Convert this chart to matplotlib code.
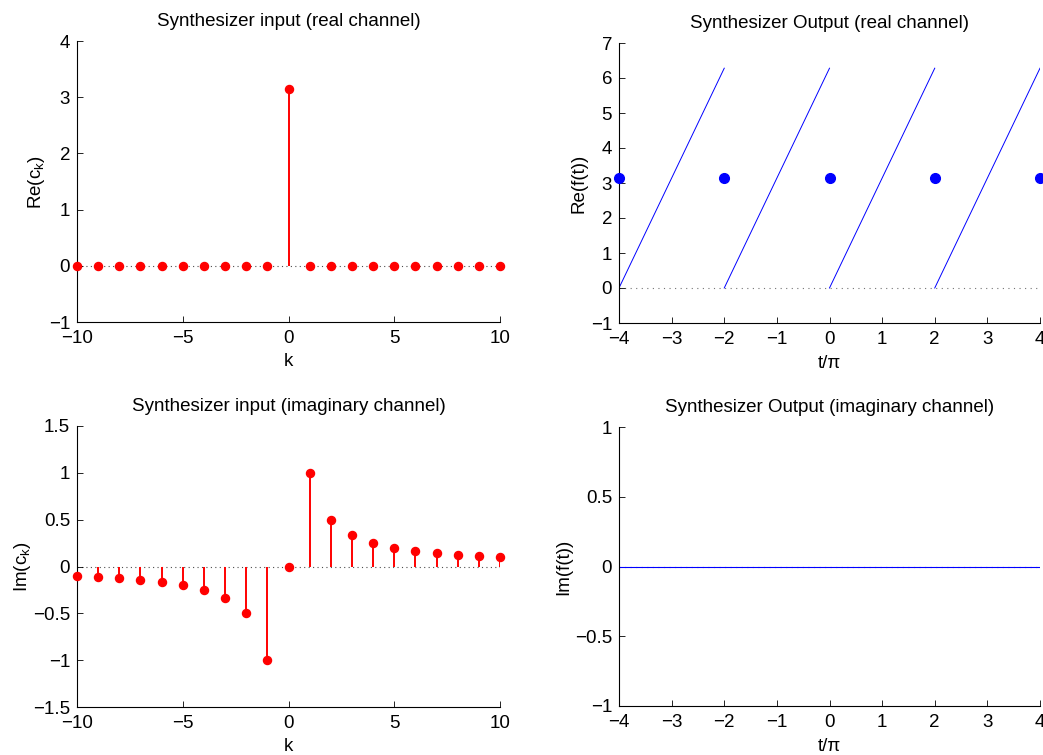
import matplotlib
matplotlib.use("Agg")
import matplotlib.pyplot as plt
from matplotlib.ticker import FuncFormatter

plt.rcParams['font.family'] = ['Liberation Sans', 'DejaVu Sans']

# Fourier coefficients
k = [-10, -9, -8, -7, -6, -5, -4, -3, -2, -1, 0, 1, 2, 3, 4, 5, 6, 7, 8, 9, 10]
re_ck = [0, 0, 0, 0, 0, 0, 0, 0, 0, 0, 3.14, 0, 0, 0, 0, 0, 0, 0, 0, 0, 0]
im_ck = [-0.1, -0.111, -0.125, -0.143, -0.167, -0.2, -0.25, -0.333, -0.5, -1.0, 0,
         1.0, 0.5, 0.333, 0.25, 0.2, 0.167, 0.143, 0.125, 0.111, 0.1]

# synthesizer output (t in units of pi): sawtooth ramps 0 -> 2pi between breaks
t_breaks = [-4, -2, 0, 2, 4]
ramp_low = 0.0
ramp_high = 6.28
jump_value = 3.14
im_ft_t = [-4, 4]
im_ft = [0, 0]

W, H = 1043, 755
fig = plt.figure(figsize=(W / 100, H / 100), dpi=100)

fmt = FuncFormatter(lambda v, p: ('%g' % v).replace('-', '\u2212'))
TICK_FS = 13.5
TITLE_FS = 13.5


def make_ax(left, top, right, bottom):
    ax = fig.add_axes([left / W, 1 - bottom / H, (right - left) / W, (bottom - top) / H])
    ax.spines['top'].set_visible(False)
    ax.spines['right'].set_visible(False)
    ax.spines['left'].set_linewidth(0.8)
    ax.spines['bottom'].set_linewidth(0.8)
    ax.tick_params(direction='in', length=4, width=0.6, labelsize=TICK_FS)
    ax.tick_params(axis='x', pad=6)
    ax.tick_params(axis='y', pad=5)
    ax.xaxis.set_major_formatter(fmt)
    ax.yaxis.set_major_formatter(fmt)
    return ax


def stem_plot(ax, x, y):
    ax.axhline(0, color='0.3', ls=(0, (1, 3)), lw=0.8, zorder=1)
    ax.vlines(x, 0, y, color='red', lw=1.4, zorder=2)
    ax.plot(x, y, 'o', color='red', ms=5.8, zorder=3, clip_on=False)


# top left
ax1 = make_ax(77, 41, 500, 322)
stem_plot(ax1, k, re_ck)
ax1.set_xlim(-10, 10)
ax1.set_ylim(-1, 4)
ax1.set_xticks([-10, -5, 0, 5, 10])
ax1.set_yticks([-1, 0, 1, 2, 3, 4])
ax1.set_title('Synthesizer input (real channel)', fontsize=TITLE_FS, pad=11)
ax1.set_xlabel('k', fontsize=TICK_FS, labelpad=4)
ax1.set_ylabel('Re(c$_\\mathregular{k}$)', fontsize=TICK_FS, labelpad=1)

# bottom left
ax3 = make_ax(77, 426, 500, 707)
stem_plot(ax3, k, im_ck)
ax3.set_xlim(-10, 10)
ax3.set_ylim(-1.5, 1.5)
ax3.set_xticks([-10, -5, 0, 5, 10])
ax3.set_yticks([-1.5, -1, -0.5, 0, 0.5, 1, 1.5])
ax3.set_title('Synthesizer input (imaginary channel)', fontsize=TITLE_FS, pad=11)
ax3.set_xlabel('k', fontsize=TICK_FS, labelpad=4)
ax3.set_ylabel('Im(c$_\\mathregular{k}$)', fontsize=TICK_FS, labelpad=0)

# top right
ax2 = make_ax(619, 43, 1040, 323)
ax2.axhline(0, color='0.45', ls=(0, (1, 4)), lw=0.8, zorder=1)
for t0, t1 in zip(t_breaks[:-1], t_breaks[1:]):
    ax2.plot([t0, t1], [ramp_low, ramp_high], color='blue', lw=0.7, zorder=2)
ax2.plot(t_breaks, [jump_value] * len(t_breaks), 'o', color='blue', ms=7,
         zorder=3, clip_on=False)
ax2.set_xlim(-4, 4)
ax2.set_ylim(-1, 7)
ax2.set_xticks(range(-4, 5))
ax2.set_yticks(range(-1, 8))
ax2.set_title('Synthesizer Output (real channel)', fontsize=TITLE_FS, pad=11)
ax2.set_xlabel('t/π', fontsize=TICK_FS, labelpad=5)
ax2.set_ylabel('Re(f(t))', fontsize=TICK_FS, labelpad=2)

# bottom right
ax4 = make_ax(619, 427, 1040, 706)
ax4.axhline(0, color='0.3', ls=(0, (1, 4)), lw=0.8, zorder=1)
ax4.plot(im_ft_t, im_ft, color='blue', lw=0.8, zorder=2)
ax4.set_xlim(-4, 4)
ax4.set_ylim(-1, 1)
ax4.set_xticks(range(-4, 5))
ax4.set_yticks([-1, -0.5, 0, 0.5, 1])
ax4.set_title('Synthesizer Output (imaginary channel)', fontsize=TITLE_FS, pad=11)
ax4.set_xlabel('t/π', fontsize=TICK_FS, labelpad=5)
ax4.set_ylabel('Im(f(t))', fontsize=TICK_FS, labelpad=2)

fig.savefig('out.png', dpi=100)
plt.close(fig)
